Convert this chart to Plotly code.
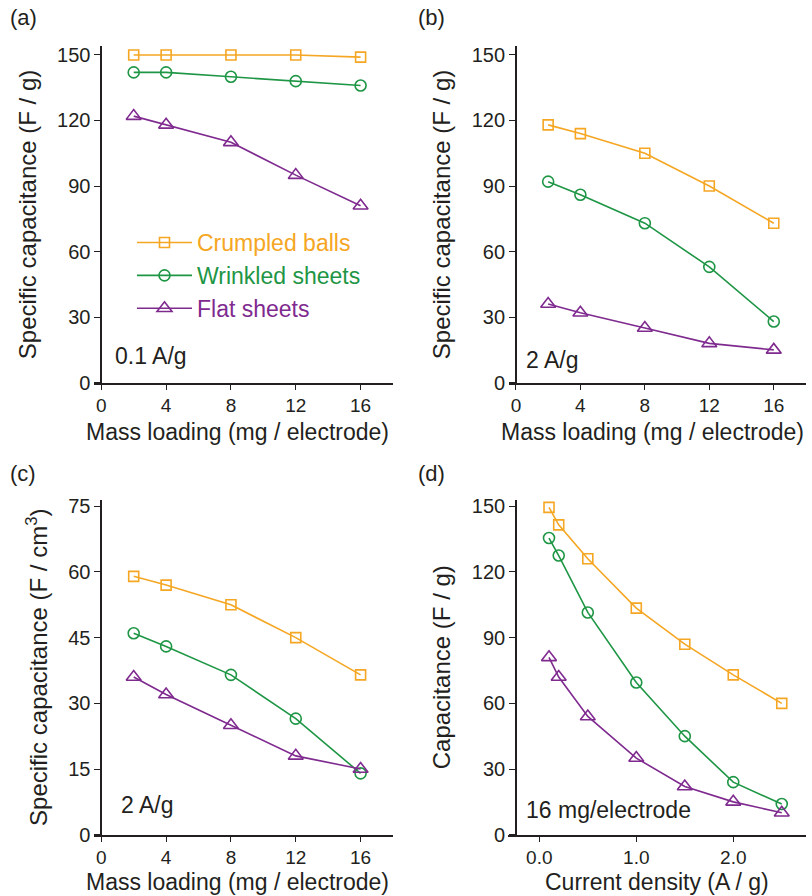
import plotly.graph_objects as go

# ---------------- data ----------------
series_names = ["Crumpled balls", "Wrinkled sheets", "Flat sheets"]
series_colors = ["#F5A623", "#1E9645", "#7F2A8F"]
series_symbols = ["square-open", "circle-open", "triangle-up-open"]
series_sizes = [10, 11, 13]

mass_loading = [2, 4, 8, 12, 16]

# (a) 0.1 A/g, F/g
a_crumpled = [150, 150, 150, 150, 149]
a_wrinkled = [142, 142, 140, 138, 136]
a_flat = [122, 118, 110, 95, 81]

# (b) 2 A/g, F/g
b_crumpled = [118, 114, 105, 90, 73]
b_wrinkled = [92, 86, 73, 53, 28]
b_flat = [36, 32, 25, 18, 15]

# (c) 2 A/g, F/cm3
c_crumpled = [59, 57, 52.5, 45, 36.5]
c_wrinkled = [46, 43, 36.5, 26.5, 14]
c_flat = [36, 32, 25, 18, 15]

# (d) 16 mg/electrode, F/g vs current density
current_density = [0.1, 0.2, 0.5, 1.0, 1.5, 2.0, 2.5]
d_crumpled = [149.5, 141.5, 126, 103.5, 87, 73, 60]
d_wrinkled = [135.5, 127.5, 101.5, 69.5, 45, 24, 14]
d_flat = [81, 72, 54, 35, 22, 15, 10]

panel_labels = ["(a)", "(b)", "(c)", "(d)"]
panel_notes = ["0.1 A/g", "2 A/g", "2 A/g", "16 mg/electrode"]
xtitles = ["Mass loading (mg / electrode)"] * 3 + ["Current density (A / g)"]
ytitles = ["Specific capacitance (F / g)", "Specific capacitance (F / g)",
           "Specific capacitance (F / cm<sup>3</sup>)", "Capacitance (F / g)"]
xticks = [[0, 4, 8, 12, 16]] * 3 + [[0.0, 1.0, 2.0]]
yticks = [[0, 30, 60, 90, 120, 150], [0, 30, 60, 90, 120, 150],
          [0, 15, 30, 45, 60, 75], [0, 30, 60, 90, 120, 150]]

# ---------------- layout helpers ----------------
W, H = 812, 896
FONT = "Arial, Liberation Sans, Helvetica, sans-serif"
AX = "#231F20"

def px_x(p):
    return p / W

def px_y(p):
    return 1 - p / H

fig = go.Figure()

panels = [
    dict(x=mass_loading, ys=[a_crumpled, a_wrinkled, a_flat]),
    dict(x=mass_loading, ys=[b_crumpled, b_wrinkled, b_flat]),
    dict(x=mass_loading, ys=[c_crumpled, c_wrinkled, c_flat]),
    dict(x=current_density, ys=[d_crumpled, d_wrinkled, d_flat]),
]

for pi, p in enumerate(panels):
    xa = "x" if pi == 0 else f"x{pi+1}"
    ya = "y" if pi == 0 else f"y{pi+1}"
    for si in range(3):
        fig.add_trace(go.Scatter(
            x=p["x"], y=p["ys"][si], xaxis=xa, yaxis=ya,
            mode="lines+markers",
            name=f"<span style='color:{series_colors[si]}'>{series_names[si]}</span>",
            showlegend=(pi == 0),
            line=dict(color=series_colors[si], width=1.6),
            marker=dict(symbol=series_symbols[si], size=series_sizes[si],
                        color=series_colors[si],
                        line=dict(color=series_colors[si], width=1.6)),
        ))

# pixel geometry: (x_left, x_right, y_top, y_bottom, xrange, yrange, y-axis data position)
geo = [
    (94, 393, 46.2, 382.7, [-0.45, 18.0], [0, 154], 0.0),
    (508.5, 806, 46.2, 382.7, [-0.46, 18.0], [0, 154], 0.0),
    (94, 393, 499.7, 834.7, [-0.45, 18.0], [0, 76.5], 0.0),
    (507.7, 806, 499.7, 834.7, [-0.326, 2.75], [0, 153], -0.24),
]
xtitle_pos = [(238, 432), (652, 432), (238, 882), (657, 882)]

layout = dict(
    width=W, height=H,
    margin=dict(l=0, r=0, t=0, b=0),
    paper_bgcolor="white", plot_bgcolor="white",
    font=dict(family=FONT, size=20, color="#231F20"),
    showlegend=True,
    legend=dict(x=px_x(132), y=px_y(221), xanchor="left", yanchor="top",
                bgcolor="rgba(0,0,0,0)", borderwidth=0,
                font=dict(size=23, family=FONT), itemwidth=55,
                tracegroupgap=0),
)

annotations = []
for i, (l, r, t, b, xr, yr, ypos) in enumerate(geo):
    xk = "xaxis" if i == 0 else f"xaxis{i+1}"
    yk = "yaxis" if i == 0 else f"yaxis{i+1}"
    ya = "y" if i == 0 else f"y{i+1}"
    pos_px = l + (ypos - xr[0]) / (xr[1] - xr[0]) * (r - l)
    layout[xk] = dict(
        domain=[px_x(l), px_x(r)], range=xr, anchor=ya,
        showgrid=False, zeroline=False, showline=True, linecolor=AX, linewidth=1.6,
        ticks="outside", ticklen=5, tickwidth=1.4, tickcolor=AX,
        tickvals=xticks[i], tickformat=".1f" if i == 3 else "d",
        tickfont=dict(size=19, family=FONT, color="#231F20"),
        automargin=False,
    )
    layout[yk] = dict(
        domain=[px_y(b), px_y(t)], range=yr, anchor="free", position=px_x(pos_px),
        showgrid=False, zeroline=False, showline=True, linecolor=AX, linewidth=1.6,
        ticks="outside", ticklen=6, tickwidth=1.4, tickcolor=AX,
        tickvals=yticks[i],
        tickfont=dict(size=20, family=FONT, color="#231F20"),
        title=dict(text=ytitles[i], font=dict(size=24, family=FONT, color="#231F20"), standoff=13),
        automargin=False,
    )
    # x-axis titles
    tx, ty = xtitle_pos[i]
    annotations.append(dict(text=xtitles[i], xref="paper", yref="paper",
                            x=px_x(tx), y=px_y(ty), xanchor="center", yanchor="middle",
                            showarrow=False, font=dict(size=23, family=FONT, color="#231F20")))
    # panel labels
    lab_x = 8 if i in (0, 2) else 416
    lab_y = 18 if i in (0, 1) else 474
    annotations.append(dict(text=panel_labels[i], xref="paper", yref="paper",
                            x=px_x(lab_x), y=px_y(lab_y), xanchor="left", yanchor="middle",
                            showarrow=False, font=dict(size=22, family=FONT, color="#231F20")))
    # condition notes
    note_x = [113, 524, 119, 524][i]
    note_y = [356, 360, 805, 810][i]
    annotations.append(dict(text=panel_notes[i], xref="paper", yref="paper",
                            x=px_x(note_x), y=px_y(note_y), xanchor="left", yanchor="middle",
                            showarrow=False, font=dict(size=23, family=FONT, color="#231F20")))

layout["annotations"] = annotations
fig.update_layout(**layout)

fig.write_html("out.html", config={"displayModeBar": False},
               post_script="document.body.style.margin='0';document.body.style.overflow='hidden';")
